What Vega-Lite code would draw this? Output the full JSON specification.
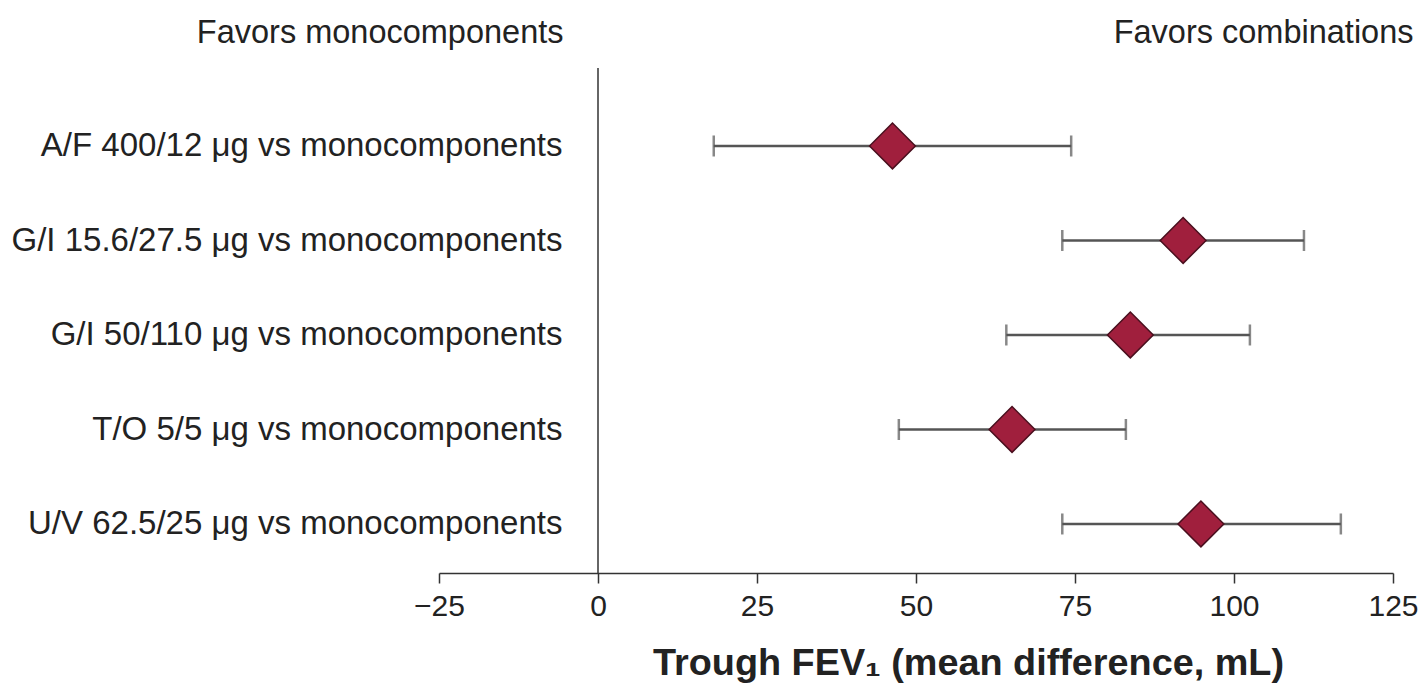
{
  "$schema": "https://vega.github.io/schema/vega-lite/v6.json",
  "width": 954,
  "height": 505,
  "autosize": {"type": "none"},
  "padding": {"left": 439, "top": 68, "right": 30, "bottom": 114},
  "background": "white",
  "config": {
    "view": {"stroke": null},
    "font": "Liberation Sans",
    "axis": {"labelFont": "Liberation Sans", "titleFont": "Liberation Sans", "labelColor": "#222", "titleColor": "#222"}
  },
  "data": {
    "values": [
      {"comparison": "A/F 400/12 μg vs monocomponents", "est": 46.3, "lo": 18.2, "hi": 74.4},
      {"comparison": "G/I 15.6/27.5 μg vs monocomponents", "est": 92.0, "lo": 73.0, "hi": 111.0},
      {"comparison": "G/I 50/110 μg vs monocomponents", "est": 83.7, "lo": 64.2, "hi": 102.5},
      {"comparison": "T/O 5/5 μg vs monocomponents", "est": 65.1, "lo": 47.3, "hi": 83.0},
      {"comparison": "U/V 62.5/25 μg vs monocomponents", "est": 94.8, "lo": 73.0, "hi": 116.8}
    ]
  },
  "resolve": {"axis": {"x": "independent"}},
  "layer": [
    {
      "data": {"values": [{"zero": 0}]},
      "mark": {"type": "rule", "color": "#333", "strokeWidth": 1.5},
      "encoding": {
        "x": {
          "field": "zero",
          "type": "quantitative",
          "scale": {"domain": [-25, 125], "nice": false, "zero": false},
          "axis": {
            "orient": "top",
            "title": null,
            "domain": false,
            "ticks": false,
            "grid": false,
            "values": [-5.5, 81.0],
            "labelExpr": "datum.value < 0 ? 'Favors monocomponents' : 'Favors combinations'",
            "labelAlign": {"condition": {"test": "datum.value < 0", "value": "right"}, "value": "left"},
            "labelFontSize": 32.5,
            "labelPadding": 19,
            "labelLimit": 0,
            "labelFlush": false,
            "labelOverlap": false,
            "labelBound": false
          }
        }
      }
    },
    {
      "mark": {"type": "rule", "color": "#555", "strokeWidth": 2.5},
      "encoding": {
        "y": {
          "field": "comparison",
          "type": "nominal",
          "sort": null,
          "scale": {"type": "point", "padding": 0.672, "align": 0.614},
          "axis": {
            "title": null,
            "domain": false,
            "ticks": false,
            "grid": false,
            "labelFontSize": 33,
            "labelPadding": 0,
            "offset": -123,
            "labelLimit": 0
          }
        },
        "x": {
          "field": "lo",
          "type": "quantitative",
          "scale": {"domain": [-25, 125], "nice": false, "zero": false},
          "axis": {
            "orient": "bottom",
            "values": [-25, 0, 25, 50, 75, 100, 125],
            "grid": false,
            "domainColor": "#333",
            "domainWidth": 1.5,
            "tickColor": "#333",
            "tickWidth": 1.5,
            "tickSize": 10,
            "labelFontSize": 30,
            "labelPadding": 8,
            "labelFlush": false,
            "title": "Trough FEV₁ (mean difference, mL)",
            "titleFontSize": 37.8,
            "titleFontWeight": "bold",
            "titlePadding": 23,
            "titleX": 529
          }
        },
        "x2": {"field": "hi"}
      }
    },
    {
      "mark": {"type": "tick", "color": "#555", "thickness": 2.5, "size": 21},
      "encoding": {
        "y": {"field": "comparison", "type": "nominal", "sort": null},
        "x": {"field": "lo", "type": "quantitative", "axis": null}
      }
    },
    {
      "mark": {"type": "tick", "color": "#555", "thickness": 2.5, "size": 21},
      "encoding": {
        "y": {"field": "comparison", "type": "nominal", "sort": null},
        "x": {"field": "hi", "type": "quantitative", "axis": null}
      }
    },
    {
      "mark": {"type": "point", "shape": "diamond", "filled": true, "color": "#a01f3d", "stroke": "#4a0f1e", "strokeWidth": 1.5, "opacity": 1, "size": 2100},
      "encoding": {
        "y": {"field": "comparison", "type": "nominal", "sort": null},
        "x": {"field": "est", "type": "quantitative", "axis": null}
      }
    }
  ]
}
